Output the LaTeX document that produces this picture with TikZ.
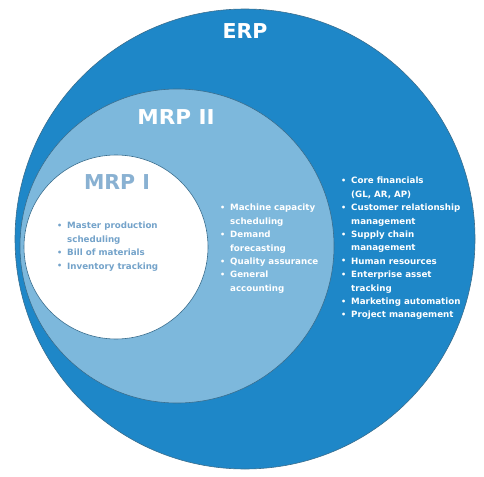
\documentclass[tikz,border=0pt]{standalone}
\usepackage{fontspec}
\setmainfont{DejaVu Sans}
\definecolor{erpblue}{HTML}{1E87C8}
\definecolor{mrpblue}{HTML}{7DB8DC}
\definecolor{mrptext}{HTML}{74A3CA}
\definecolor{rimgray}{HTML}{3A6E8E}
\tikzset{
  ring/.style={circle, draw=rimgray, line width=0.6pt, inner sep=0pt},
  title/.style={font=\bfseries\fontsize{20.5}{24}\selectfont},
  itemlist/.style={anchor=north west, inner sep=0pt, align=left,
    font=\bfseries\fontsize{8.7}{13.4}\selectfont}
}
\newcommand{\bl}{\makebox[10pt][l]{\raisebox{0.3pt}{\footnotesize\textbullet}}}
\newcommand{\nb}{\makebox[10pt][l]{}}
\begin{document}
\begin{tikzpicture}[x=1pt,y=-1pt]
\useasboundingbox (0,0) rectangle (484,476);
\node[ring, fill=erpblue, minimum size=460pt] (erp) at (245,239) {};
\node[ring, fill=mrpblue, minimum size=314pt] (mrp2) at (177,246) {};
\node[ring, fill=white, minimum size=184pt] (mrp1) at (116,247) {};
\node[title, text=white] (terp) at (245,31) {ERP};
\node[title, text=white, xscale=1.05] (tmrp2) at (176,117) {MRP II};
\node[title, text=mrptext!85!white] (tmrp1) at (117,182) {MRP I};
\node[itemlist, text=mrptext] (lmrp1) at (57,222) {%
\bl Master production\\
\nb scheduling\\
\bl Bill of materials\\
\bl Inventory tracking};
\node[itemlist, text=white] (lmrp2) at (220,204) {%
\bl Machine capacity\\
\nb scheduling\\
\bl Demand\\
\nb forecasting\\
\bl Quality assurance\\
\bl General\\
\nb accounting};
\node[itemlist, text=white] (lerp) at (341,177) {%
\bl Core financials\\
\nb (GL, AR, AP)\\
\bl Customer relationship\\
\nb management\\
\bl Supply chain\\
\nb management\\
\bl Human resources\\
\bl Enterprise asset\\
\nb tracking\\
\bl Marketing automation\\
\bl Project management};
\end{tikzpicture}
\end{document}
